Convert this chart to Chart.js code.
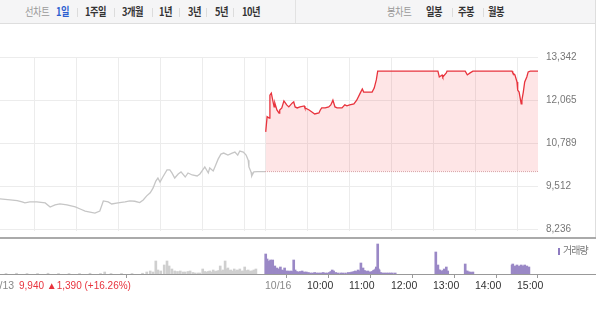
<!DOCTYPE html>
<html lang="ko">
<head>
<meta charset="utf-8">
<script src="https://cdn.jsdelivr.net/npm/chart.js@4.4.1/dist/chart.umd.min.js"></script>
<style>
    body { margin: 0; background: #fff; font-family: 'Liberation Sans', 'Noto Sans CJK KR', sans-serif; }
    #wrap { position: relative; width: 600px; height: 310px; overflow: hidden; background: #fff; }
    .tabs { position: absolute; left: 0; top: 0; width: 595px; height: 23px; background: #f5f5f6; border-bottom: 1px solid #dedede; }
    .tab { position: absolute; top: 4px; font-size: 11px; line-height: 15px; font-weight: bold; color: #333; letter-spacing: -0.5px; font-family: 'Noto Sans CJK KR', sans-serif; transform: scaleX(0.84); transform-origin: left center; }
    .tab.title { color: #999; font-weight: normal; }
    .tab.on { color: #2d5fd0; }
    .sep { position: absolute; top: 8px; width: 1px; height: 9px; background: #dcdcdc; }
    .box { position: absolute; left: 0; }
    .box canvas { display: block; }
    .hline { position: absolute; left: 0; width: 596px; }
    #vline { position: absolute; left: 595px; top: 0; width: 1px; height: 238px; background: #dedede; }
    #prevInfo { position: absolute; left: 19px; top: 280px; font-size: 10px; color: #e8333d; white-space: nowrap; }
    #volLegend { position: absolute; left: 558px; top: 242px; font-size: 10px; color: #777; font-family: 'Noto Sans CJK KR', sans-serif; letter-spacing: -1px; }
    #volLegend i { display: inline-block; width: 2px; height: 7px; background: #8d7bc0; margin-right: 3px; vertical-align: -1px; }
</style>
</head>
<body>
<div id="wrap">
    <div class="tabs">
        <span class="tab title" style="left:25px">선차트</span>
        <span class="tab on" style="left:56px">1일</span>
        <span class="sep" style="left:77px"></span>
        <span class="tab" style="left:85px">1주일</span>
        <span class="sep" style="left:114px"></span>
        <span class="tab" style="left:122px">3개월</span>
        <span class="sep" style="left:152px"></span>
        <span class="tab" style="left:159px">1년</span>
        <span class="sep" style="left:179px"></span>
        <span class="tab" style="left:188px">3년</span>
        <span class="sep" style="left:206px"></span>
        <span class="tab" style="left:215px">5년</span>
        <span class="sep" style="left:233px"></span>
        <span class="tab" style="left:242px">10년</span>
        <span class="sep" style="left:295px; top:0; height:23px; background:#e2e2e2"></span>
        <span class="tab title" style="left:387px">봉차트</span>
        <span class="tab" style="left:426px">일봉</span>
        <span class="sep" style="left:452px"></span>
        <span class="tab" style="left:458px">주봉</span>
        <span class="sep" style="left:483px"></span>
        <span class="tab" style="left:488px">월봉</span>
    </div>
    <div id="vline"></div>
    <div class="box" style="top:24px"><canvas id="priceChart" width="600" height="221"></canvas></div>
    <div class="box" style="top:238px"><canvas id="volChart" width="600" height="72"></canvas></div>
    <div class="hline" style="top:237px; height:2px; background:#aaa"></div>
    <div class="hline" style="top:274px; height:1px; background:#999"></div>
    <div id="volLegend"><i></i>거래량</div>
    <div id="prevInfo">9,940 ▲1,390 (+16.26%)</div>
</div>

<script>
// minutes after the 09:00 open; one session runs 390 minutes (to 15:30)
const SESSION = 390;
const prevClose = 9940;

// 10/13 (previous day) price line
const prevMin = [0, 11, 26, 36, 43, 47, 54, 64, 76, 83, 90, 97, 107, 119, 126, 133, 140, 147, 154, 159,
    166, 171, 180, 190, 197, 204, 211, 216, 221, 226, 230, 234, 237, 240, 244, 250, 254, 257, 261, 266,
    270, 276, 280, 286, 293, 297, 304, 309, 311, 316, 319, 323, 327, 331, 337, 343, 347, 351, 354, 359,
    363, 366, 367, 370, 371, 374, 379, 390];
const prevPrice = [9140, 9130, 9100, 9080, 9040, 9010, 9040, 9040, 9010, 8890, 8950, 8980, 8950, 8890, 8830, 8770, 8740, 8710, 8770, 9070,
    9040, 8980, 9010, 9040, 9070, 9060, 9020, 9100, 9220, 9310, 9450, 9660, 9750, 9630, 9780, 9990, 9990, 9900, 9750, 9870,
    9930, 9780, 9900, 9840, 9810, 9870, 10080, 9900, 10050, 9960, 10110, 10310, 10460, 10490, 10430, 10490, 10520, 10430, 10550, 10520,
    10430, 10280, 10080, 9930, 9810, 9930, 9940, 9940];

// 10/16 (today) price line
const todayMin = [1, 3, 6, 7, 9, 11, 13, 14, 17, 20, 21, 24, 27, 29, 31, 34, 39, 41, 43, 46,
    50, 56, 57, 63, 67, 71, 77, 79, 81, 86, 91, 94, 97, 100, 103, 110, 114, 117, 121, 127,
    131, 136, 139, 141, 146, 150, 153, 156, 159, 161, 247, 249, 253, 254, 259, 260, 286, 289, 293, 297,
    353, 354, 357, 360, 361, 363, 366, 367, 369, 371, 374, 376, 379, 390];
const todayPrice = [11120, 11570, 11530, 12210, 12270, 12060, 11860, 11980, 11770, 11680, 11770, 11830, 12040, 11980, 11920, 11860, 11980, 12010, 11860, 11830,
    11860, 11890, 11830, 11770, 11710, 11650, 11680, 11770, 11830, 11830, 11860, 11920, 12060, 11860, 11830, 11830, 11920, 11890, 11920, 11950,
    12060, 12270, 12390, 12300, 12300, 12300, 12300, 12420, 12660, 12920, 12920, 12750, 12810, 12750, 12870, 12920, 12920, 12810, 12870, 12920,
    12920, 12870, 12810, 12600, 12360, 12300, 11950, 12060, 12300, 12600, 12750, 12900, 12920, 12920];

// volume (thousand shares)
const prevVolMin = [20, 35, 50, 65, 80, 95, 110, 125, 140, 155, 161, 170, 185, 200, 215, 221, 226, 230, 234, 237,
    241, 246, 250, 253, 257, 261, 265, 269, 273, 276, 280, 283, 287, 290, 294, 297, 301, 304, 306, 309,
    311, 314, 316, 319, 321, 324, 326, 328, 330, 333, 335, 337, 339, 341, 344, 346, 348, 350, 352, 354,
    356, 359, 361, 364, 366, 368, 370, 372, 374, 377];
const prevVol = [2, 3, 2, 2, 3, 2, 2, 2, 3, 2, 8, 2, 2, 2, 3, 8, 12, 8, 52, 16,
    12, 36, 52, 32, 20, 12, 10, 12, 8, 8, 10, 12, 6, 4, 4, 4, 20, 10, 8, 10,
    12, 8, 16, 10, 12, 14, 32, 12, 16, 52, 20, 24, 14, 16, 12, 20, 12, 16, 14, 20,
    12, 12, 28, 14, 16, 10, 12, 12, 16, 20];
const todayVolMin = [1, 2, 3, 4, 6, 7, 8, 10, 11, 13, 14, 16, 17, 19, 20, 22, 24, 26, 28, 30,
    33, 35, 37, 39, 41, 43, 45, 47, 50, 53, 56, 59, 62, 65, 68, 71, 74, 77, 80, 83,
    86, 89, 92, 94, 96, 98, 101, 104, 108, 111, 115, 119, 122, 124, 127, 129, 131, 133, 135, 137,
    139, 140, 142, 143, 145, 147, 149, 151, 153, 155, 156, 158, 159, 161, 162, 163, 165, 167, 170, 173,
    176, 179, 182, 186, 244, 245, 247, 248, 250, 252, 253, 255, 256, 258, 259, 261, 286, 287, 289, 291,
    293, 295, 297, 353, 354, 356, 357, 358, 360, 361, 363, 364, 366, 367, 369, 370, 371, 373, 374, 376, 377];
const todayVol = [80, 40, 60, 30, 52, 20, 56, 36, 56, 24, 32, 20, 24, 16, 20, 28, 16, 14, 24, 12,
    12, 10, 12, 10, 56, 16, 10, 8, 10, 12, 8, 8, 6, 4, 4, 6, 4, 4, 4, 6,
    4, 4, 6, 10, 16, 12, 6, 4, 4, 4, 4, 6, 6, 8, 10, 12, 10, 16, 12, 44,
    16, 24, 14, 12, 10, 12, 8, 8, 10, 14, 16, 20, 28, 120, 20, 16, 6, 4, 4, 4,
    4, 4, 4, 4, 88, 20, 36, 16, 16, 10, 12, 14, 20, 12, 28, 12, 40, 12, 12, 8,
    8, 6, 8, 36, 40, 28, 32, 24, 36, 30, 28, 32, 36, 26, 32, 30, 36, 28, 32, 24, 28];

// axis ticks (date label of 10/13 sits on its pre-open first point)
const priceTicks = [8236, 9512, 10789, 12065, 13342];
const gridMin = [60, 120, 180, 240, 300, 360, 390, 450, 510, 570, 630, 690, 750];
const labelMin = [-6, 390, 450, 510, 570, 630, 690, 750];
const labelText = ['10/13', '10/16', '10:00', '11:00', '12:00', '13:00', '14:00', '15:00'];

const xMin = 11.4;
const xMax = SESSION * 2;

Chart.defaults.font.family = "'Liberation Sans', 'Noto Sans CJK KR', sans-serif";
Chart.defaults.animation = false;

const pts = (mins, vals, offset) => mins.map((m, i) => ({ x: m + offset, y: vals[i] }));

// Price chart
new Chart(document.getElementById('priceChart'), {
    type: 'line',
    data: {
        datasets: [
            {
                data: [{ x: SESSION, y: prevClose }, { x: SESSION * 2, y: prevClose }],
                borderColor: '#d7a3a6',
                borderWidth: 1,
                borderDash: [1, 1],
                pointRadius: 0
            },
            {
                data: pts(prevMin, prevPrice, 0),
                borderColor: '#c6c6c6',
                borderWidth: 1.3,
                pointRadius: 0
            },
            {
                data: pts(todayMin, todayPrice, SESSION),
                borderColor: '#e8333d',
                borderWidth: 1.3,
                pointRadius: 0,
                fill: { value: prevClose },
                backgroundColor: 'rgba(245, 70, 80, 0.14)'
            }
        ]
    },
    options: {
        responsive: false,
        layout: { padding: { top: 33, bottom: 0, left: 0, right: 0 } },
        plugins: { legend: { display: false }, tooltip: { enabled: false } },
        scales: {
            x: {
                type: 'linear',
                min: xMin,
                max: xMax,
                afterBuildTicks: scale => { scale.ticks = gridMin.map(v => ({ value: v })); },
                afterFit: scale => { scale.height = 0; },
                ticks: { display: false },
                grid: { color: '#ececec', drawTicks: false },
                border: { display: false }
            },
            y: {
                position: 'right',
                min: 8177,
                max: 13342,
                afterBuildTicks: scale => { scale.ticks = priceTicks.map(v => ({ value: v })); },
                afterFit: scale => { scale.width = 62; },
                ticks: {
                    padding: 8,
                    color: '#777',
                    font: { size: 10 },
                    callback: v => v.toLocaleString('en-US')
                },
                grid: { color: '#ececec', drawTicks: false },
                border: { display: false }
            }
        }
    }
});

// Volume chart
new Chart(document.getElementById('volChart'), {
    type: 'bar',
    data: {
        datasets: [
            {
                data: pts(prevVolMin, prevVol, 0),
                backgroundColor: '#cfcfcf',
                barThickness: 2,
                grouped: false
            },
            {
                data: pts(todayVolMin, todayVol, SESSION),
                backgroundColor: '#9a88c6',
                barThickness: 2,
                grouped: false
            }
        ]
    },
    options: {
        responsive: false,
        layout: { padding: { top: 0, bottom: 0, left: 0, right: 62 } },
        plugins: { legend: { display: false }, tooltip: { enabled: false } },
        scales: {
            x: {
                type: 'linear',
                offset: false,
                min: xMin,
                max: xMax,
                afterBuildTicks: scale => { scale.ticks = labelMin.map(v => ({ value: v })); },
                afterFit: scale => { scale.height = 36; scale.paddingLeft = 0; scale.paddingRight = 0; },
                ticks: {
                    align: 'start',
                    autoSkip: false,
                    maxRotation: 0,
                    padding: 2,
                    font: { size: 10.5 },
                    color: ctx => (ctx.tick && ctx.tick.value < 450 ? '#888' : '#333'),
                    callback: v => labelText[labelMin.indexOf(v)]
                },
                grid: { drawOnChartArea: false, tickLength: 4, color: '#999' },
                border: { display: false }
            },
            y: {
                display: false,
                min: 0,
                max: 144
            }
        }
    }
});
</script>
</body>
</html>
